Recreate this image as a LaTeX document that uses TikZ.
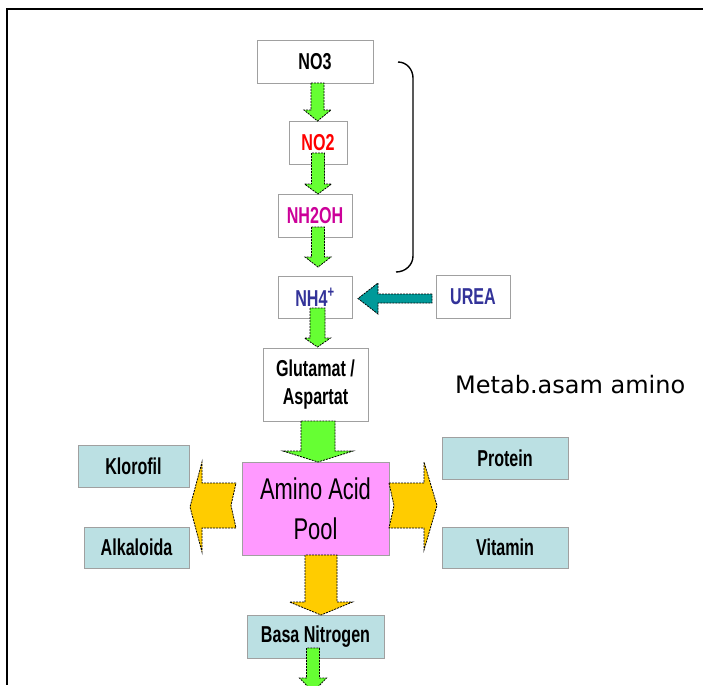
\documentclass[tikz,border=0pt]{standalone}
\usepackage{fontspec}
\setmainfont{Liberation Sans}
\newfontfamily\labfont[FakeStretch=0.7]{Liberation Sans}
\newfontfamily\poolfont[FakeStretch=0.73]{Liberation Sans}
\newfontfamily\metafont{DejaVu Sans}
\definecolor{arrgreen}{HTML}{66FF33}
\definecolor{arryellow}{HTML}{FFCC00}
\definecolor{arrteal}{HTML}{009999}
\definecolor{poolpink}{HTML}{FF99FF}
\definecolor{lightblue}{HTML}{BBE0E3}
\definecolor{boxgray}{HTML}{A0A0A0}
\definecolor{nored}{HTML}{FF0000}
\definecolor{nhmag}{HTML}{CC0099}
\definecolor{nhblue}{HTML}{333399}
\newcommand\blkdown[7]{\draw[#1] ({#2-#6},#3) -- ({#2-#6},#4) -- ({#2-#7},#4) -- (#2,#5) -- ({#2+#7},#4) -- ({#2+#6},#4) -- ({#2+#6},#3) -- cycle;}
\tikzset{
  box/.style={draw=boxgray, line width=0.9pt, fill=white, inner sep=0pt, align=center,
    font=\labfont\bfseries\fontsize{23}{28}\selectfont},
  bluebox/.style={box, fill=lightblue},
  blockarr/.style={draw=black, line width=0.8pt, dash pattern=on 2pt off 1pt, line join=miter},
  garr/.style={blockarr, fill=arrgreen},
  yarr/.style={blockarr, fill=arryellow},
  tarr/.style={blockarr, fill=arrteal},
}
\begin{document}
\begin{tikzpicture}[x=1pt,y=-1pt]
\path[use as bounding box, fill=white] (0,0) rectangle (703,685);
\draw[line width=1.8pt] (703,9) -- (7,9) -- (7,685);
% boxes
\node[box, minimum width=116pt, minimum height=43pt] (no3) at (315,61.5) {NO3};
\node[box, minimum width=58pt, minimum height=43pt, text=nored] (no2) at (318,142.5) {NO2};
\node[box, minimum width=74pt, minimum height=43pt, text=nhmag] (nh2oh) at (315,215.5) {NH2OH};
\node[box, minimum width=74pt, minimum height=42pt, text=nhblue] (nh4) at (315,297) {NH4\textsuperscript{+}};
\node[box, minimum width=74pt, minimum height=43pt, text=nhblue] (urea) at (473,296.5) {UREA};
\node[box, minimum width=105pt, minimum height=73pt] (glut) at (315.5,384.5) {Glutamat /\\Aspartat};
\node[box, fill=poolpink, minimum width=147pt, minimum height=93pt,
  font=\poolfont\fontsize{30}{40}\selectfont] (pool) at (315.5,508.5) {Amino Acid\\Pool};
\node[bluebox, minimum width=111pt, minimum height=42pt] (klorofil) at (133.5,466) {Klorofil};
\node[bluebox, minimum width=105pt, minimum height=41pt] (alkaloida) at (136.5,547.5) {Alkaloida};
\node[bluebox, minimum width=126pt, minimum height=42pt] (protein) at (505,458) {Protein};
\node[bluebox, minimum width=126pt, minimum height=41pt] (vitamin) at (505,547.5) {Vitamin};
\node[bluebox, minimum width=137pt, minimum height=43pt] (basa) at (315.5,636.5) {Basa Nitrogen};
\node[anchor=base west, inner sep=0pt, font=\metafont\fontsize{24}{28}\selectfont] (metab) at (455,393) {Metab.asam amino};
% bracket
\draw[line width=1.4pt] (398,62) to[out=0,in=90] (413,78) -- (413,256) to[out=-90,in=0] (396,272);
% green arrows
\blkdown{garr}{317.5}{83}{110}{121}{6.5}{13.5}
\blkdown{garr}{318}{153}{184}{194}{6.5}{13.5}
\blkdown{garr}{318}{227}{257}{267}{6.5}{13}
\blkdown{garr}{317.5}{308}{338}{347}{7.5}{13}
\blkdown{garr}{318}{421}{451}{462}{17}{35}
\blkdown{garr}{313}{648}{678}{692}{6.5}{13.5}
% yellow arrows
\blkdown{yarr}{321}{555}{602}{615}{16}{31.5}
\draw[yarr] (236,483) -- (202,483) -- (202,462) -- (190,507) -- (202,552) -- (202,528) -- (236,528) -- (231,505.5) -- cycle;
\draw[yarr] (389,483) -- (424,483) -- (424,462) -- (437,505.5) -- (424,550) -- (424,528) -- (389,528) -- (394,505.5) -- cycle;
% teal arrow
\draw[tarr] (432,294) -- (378,294) -- (378,283) -- (358,298.5) -- (378,314) -- (378,303) -- (432,303) -- cycle;
\end{tikzpicture}
\end{document}
